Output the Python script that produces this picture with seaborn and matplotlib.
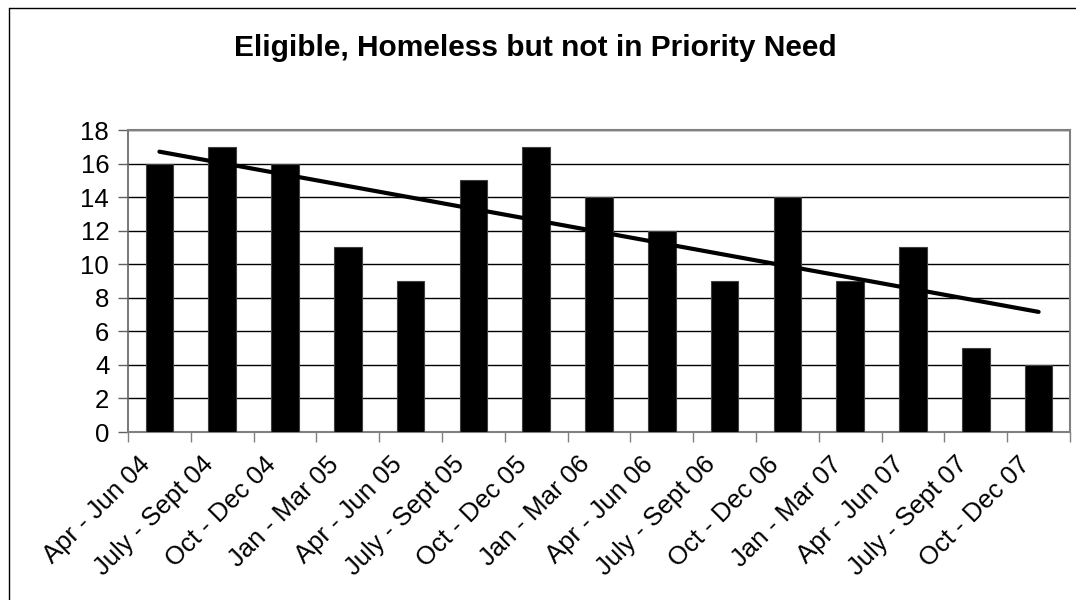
import numpy as np
import pandas as pd
import seaborn as sns
import matplotlib.pyplot as plt
import matplotlib.transforms as mtransforms
from matplotlib.lines import Line2D

# quarterly counts
quarters = ['Apr - Jun 04', 'July - Sept 04', 'Oct - Dec 04', 'Jan - Mar 05',
            'Apr - Jun 05', 'July - Sept 05', 'Oct - Dec 05', 'Jan - Mar 06',
            'Apr - Jun 06', 'July - Sept 06', 'Oct - Dec 06', 'Jan - Mar 07',
            'Apr - Jun 07', 'July - Sept 07', 'Oct - Dec 07']
cases = [16, 17, 16, 11, 9, 15, 17, 14, 12, 9, 14, 9, 11, 5, 4]

df = pd.DataFrame({'quarter': quarters, 'cases': cases})

sns.set_style('white')
plt.rcParams['font.family'] = ['Liberation Sans', 'DejaVu Sans']
plt.rcParams['text.color'] = 'black'
plt.rcParams['xtick.color'] = 'black'
plt.rcParams['ytick.color'] = 'black'

fig = plt.figure(figsize=(10.76, 6.0), dpi=100)
ax = fig.add_axes([128 / 1076, 168 / 600, 942 / 1076, 302 / 600])

sns.barplot(data=df, x='quarter', y='cases', color='black', saturation=1,
            width=0.44, edgecolor='#404040', linewidth=0.8, ax=ax, zorder=3)

# linear trend line
x = np.arange(len(cases))
coef = np.polyfit(x, cases, 1)
ax.plot(x, np.polyval(coef, x), color='black', lw=3, zorder=4)

ax.set_xlim(-0.5, len(cases) - 0.5)
ax.set_ylim(0, 18)
ax.set_yticks(range(0, 19, 2))
ax.yaxis.grid(True, color='black', lw=1)
ax.set_axisbelow(True)
ax.set_xlabel('')
ax.set_ylabel('')

for side in ['top', 'right', 'bottom']:
    ax.spines[side].set_color('#808080')
    ax.spines[side].set_linewidth(1.5)
ax.spines['left'].set_color('#606060')
ax.spines['left'].set_linewidth(1.2)

# ticks sit between categories, labels are drawn separately
ax.set_xticks(np.arange(-0.5, len(cases), 1))
ax.set_xticklabels([])
ax.tick_params(axis='x', length=7, width=1, color='#808080',
               direction='out', bottom=True)
ax.tick_params(axis='y', length=7, width=1, color='#606060', direction='out',
               left=True, labelsize=18.5, pad=6.5)

shift = mtransforms.ScaledTranslation(-0.21, -0.20, fig.dpi_scale_trans)
for i, q in enumerate(quarters):
    ax.text(i, 0, q, transform=ax.get_xaxis_transform() + shift,
            rotation=45, ha='right', va='top', rotation_mode='anchor',
            fontsize=18.5)

fig.text(535 / 1076, 544 / 600, 'Eligible, Homeless but not in Priority Need',
         ha='center', va='baseline', fontsize=21.5, fontweight='bold')

# chart border (left and top edges are inside the image)
fig.add_artist(Line2D([8.5 / 1076, 8.5 / 1076], [0, 1 - 7.5 / 600],
                      transform=fig.transFigure, color='black', lw=1))
fig.add_artist(Line2D([8.5 / 1076, 1], [1 - 7.5 / 600, 1 - 7.5 / 600],
                      transform=fig.transFigure, color='black', lw=1))

fig.savefig('out.png', dpi=100)
